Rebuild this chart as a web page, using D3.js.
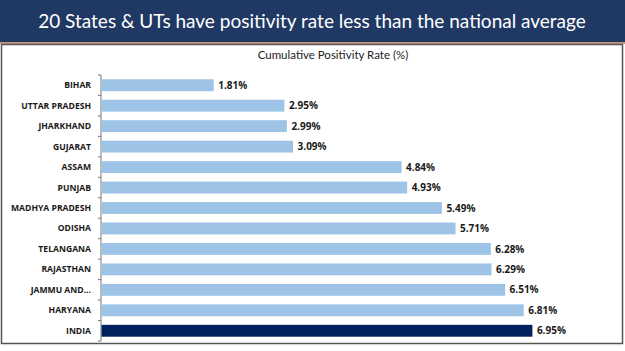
<!DOCTYPE html>
<html>
<head>
<meta charset="utf-8">
<script src="https://cdn.jsdelivr.net/npm/d3@7"></script>
<style>
  body { margin: 0; background: #fff; }
  svg { display: block; font-family: Lato, "Open Sans", sans-serif; }
</style>
</head>
<body>
<div id="chart"></div>
<script>
const states = ["BIHAR", "UTTAR PRADESH", "JHARKHAND", "GUJARAT", "ASSAM", "PUNJAB",
  "MADHYA PRADESH", "ODISHA", "TELANGANA", "RAJASTHAN", "JAMMU AND...", "HARYANA", "INDIA"];
const rates = [1.81, 2.95, 2.99, 3.09, 4.84, 4.93, 5.49, 5.71, 6.28, 6.29, 6.51, 6.81, 6.95];

const W = 625, H = 351;
const margin = {top: 75, left: 101, bottom: 10};
const pxPerUnit = 62;

const svg = d3.select("#chart")
  .append("svg")
    .attr("width", W)
    .attr("height", H);

// header band
svg.append("rect")
  .attr("x", 0).attr("y", 0)
  .attr("width", W).attr("height", 42)
  .attr("fill", "#1f3864");
svg.append("rect")
  .attr("x", 0).attr("y", 42)
  .attr("width", W).attr("height", 2)
  .attr("fill", "#c49a7c");

svg.append("text")
  .attr("x", 312).attr("y", 28)
  .attr("text-anchor", "middle")
  .attr("fill", "#fff")
  .style("font-size", "19px")
  .text("20 States & UTs have positivity rate less than the national average");

// chart frame
svg.append("rect")
  .attr("x", 1.5).attr("y", 44.5)
  .attr("width", 621).attr("height", 299)
  .attr("fill", "#fff")
  .attr("stroke", "#555")
  .attr("stroke-width", 1.5);

svg.append("text")
  .attr("x", 333).attr("y", 59)
  .attr("text-anchor", "middle")
  .attr("fill", "#222")
  .style("font-size", "11.5px")
  .text("Cumulative Positivity Rate (%)");

const data = states.map((s, i) => ({state: s, rate: rates[i]}));

const x = d3.scaleLinear()
  .domain([0, 1])
  .range([margin.left, margin.left + pxPerUnit]);

const y = d3.scaleBand()
  .domain(states)
  .range([margin.top, 341])
  .paddingInner(0.42)
  .paddingOuter(0.21);

// axis with ticks between categories
const axisG = svg.append("g").attr("transform", `translate(${margin.left},0)`);
axisG.append("line")
  .attr("y1", margin.top).attr("y2", 341)
  .attr("stroke", "#777");
axisG.selectAll("line.tick")
  .data(d3.range(states.length + 1))
  .join("line")
    .attr("class", "tick")
    .attr("x1", -3).attr("x2", 0)
    .attr("y1", i => margin.top + i * (266 / states.length))
    .attr("y2", i => margin.top + i * (266 / states.length))
    .attr("stroke", "#777");

svg.selectAll("text.cat")
  .data(data)
  .join("text")
    .attr("class", "cat")
    .attr("x", margin.left - 10)
    .attr("y", d => y(d.state) + y.bandwidth() / 2)
    .attr("dy", "0.35em")
    .attr("text-anchor", "end")
    .attr("fill", "#1a1a1a")
    .style("font-family", "'Open Sans', sans-serif")
    .style("font-size", "8.6px")
    .style("font-weight", "bold")
    .text(d => d.state);

svg.selectAll("rect.bar")
  .data(data)
  .join("rect")
    .attr("class", "bar")
    .attr("x", x(0) + 0.5)
    .attr("y", d => y(d.state))
    .attr("width", d => x(d.rate) - x(0))
    .attr("height", y.bandwidth())
    .attr("fill", d => d.state === "INDIA" ? "#002060" : "#9dc3e6");

svg.selectAll("text.val")
  .data(data)
  .join("text")
    .attr("class", "val")
    .attr("x", d => x(d.rate) + 5)
    .attr("y", d => y(d.state) + y.bandwidth() / 2)
    .attr("dy", "0.36em")
    .attr("fill", "#1a1a1a")
    .style("font-family", "'Open Sans', sans-serif")
    .style("font-size", "10px")
    .style("font-weight", "bold")
    .text(d => d.rate.toFixed(2) + "%");
</script>
</body>
</html>
